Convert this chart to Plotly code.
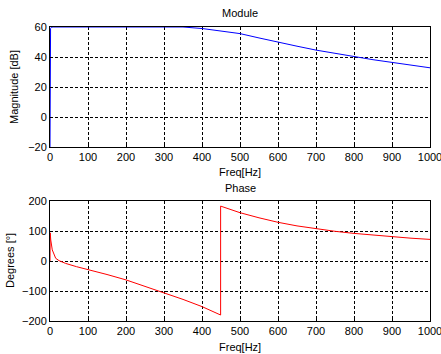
import plotly.graph_objects as go
from plotly.subplots import make_subplots

# Frequency response samples
freq_mag = [0, 0, 1.5, 4, 10, 100, 200, 300, 350, 400, 450, 500, 550, 600,
            650, 700, 750, 800, 850, 900, 950, 1000]
magnitude_db = [-20, 56, 59, 59.9, 60, 60, 60, 60, 60, 59, 57.5, 55.6, 52.7,
                49.8, 47.2, 44.6, 42.3, 40.2, 38.2, 36.4, 34.6, 32.8]

freq_phase = [0, 0.5, 2, 6, 10, 15, 24, 41, 70, 100, 150, 200, 250, 300,
              350, 400, 425, 449, 449, 475, 500, 550, 600, 650, 700, 750, 800,
              850, 900, 950, 1000]
phase_deg = [0, 94, 70, 37, 22, 9, 1, -8, -19, -28, -45, -63, -84, -106,
             -128, -152, -166, -180, 183, 171, 161, 144, 129, 117, 107, 99, 92,
             86, 81, 76, 72]

x_ticks = [0, 100, 200, 300, 400, 500, 600, 700, 800, 900, 1000]
mag_ticks = [-20, 0, 20, 40, 60]
phase_ticks = [-200, -100, 0, 100, 200]

W, H = 441, 354
ML, MR, MT, MB = 50, 11, 27, 33
ph = H - MT - MB

fig = make_subplots(rows=2, cols=1)
fig.add_trace(go.Scatter(x=freq_mag, y=magnitude_db, mode="lines",
                         line=dict(color="#0000ff", width=1)), row=1, col=1)
fig.add_trace(go.Scatter(x=freq_phase, y=phase_deg, mode="lines",
                         line=dict(color="#ff0000", width=1)), row=2, col=1)

font = dict(family="Liberation Sans, Arial, sans-serif", size=11, color="black")
axis_common = dict(showline=True, mirror=True, linecolor="black", linewidth=1,
                   showgrid=True, gridcolor="black", gridwidth=1,
                   griddash="3px,2px", zeroline=False, ticks="inside",
                   ticklen=3, tickcolor="black", tickfont=font,
                   automargin=False)

top_lo = (H - MB - 147) / ph
bot_hi = (H - MB - 201) / ph

fig.update_xaxes(range=[0, 1000], tickvals=x_ticks, ticklabeloverflow="allow",
                 **axis_common)
fig.update_yaxes(**axis_common)
fig.update_yaxes(range=[-20, 60], tickvals=mag_ticks, domain=[top_lo, 1], row=1, col=1)
fig.update_yaxes(range=[-200, 200], tickvals=phase_ticks, domain=[0, bot_hi], row=2, col=1)

def ypaper(py):
    return (H - MB - py) / ph

annotations = [
    dict(text="Module", x=0.5, y=ypaper(13), yanchor="middle"),
    dict(text="Phase", x=0.5, y=ypaper(188), yanchor="middle"),
    dict(text="Freq[Hz]", x=0.5, y=ypaper(172), yanchor="middle"),
    dict(text="Freq[Hz]", x=0.5, y=ypaper(347), yanchor="middle"),
    dict(text="Magnitude [dB]", x=0, xshift=-36, y=ypaper(87), yanchor="middle", textangle=-90),
    dict(text="Degrees [°]", x=0, xshift=-40, y=ypaper(261), yanchor="middle", textangle=-90),
]
for a in annotations:
    fig.add_annotation(xref="paper", yref="paper", showarrow=False,
                       xanchor="center", font=font, **a)

fig.update_layout(width=W, height=H, margin=dict(l=ML, r=MR, t=MT, b=MB),
                  paper_bgcolor="white", plot_bgcolor="white",
                  showlegend=False, font=font)

fig.write_html("out.html")
